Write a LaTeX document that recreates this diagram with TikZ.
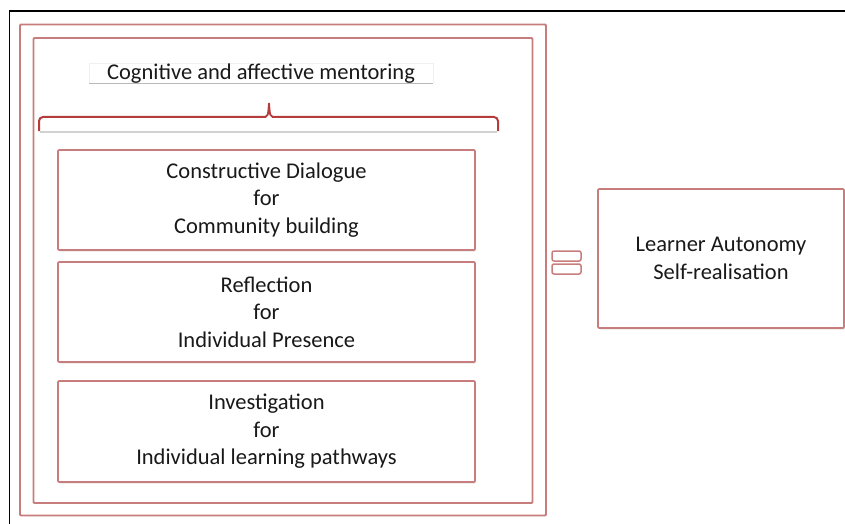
\documentclass[tikz,border=0pt]{standalone}
\usepackage{fontspec}
\setmainfont{Carlito}
\usetikzlibrary{shadows}
\definecolor{boxred}{RGB}{200,125,125}
\definecolor{bracered}{RGB}{180,60,60}
\definecolor{txt}{RGB}{25,25,25}
\tikzset{
  every node/.style={text=txt},
  bigfont/.style={font=\fontsize{22.5}{27.5}\selectfont},
  redframe/.style={draw=boxred, line width=1.8pt, rounded corners=1pt},
  mbox/.style={draw=boxred, line width=1.6pt, rounded corners=1pt, fill=white,
    align=center, bigfont, inner sep=0pt,
    drop shadow={opacity=0.2, shadow xshift=1.2pt, shadow yshift=-1.5pt}},
  eqbox/.style={draw=boxred, line width=1.5pt, rounded corners=2pt, inner sep=0pt,
    minimum width=29pt, minimum height=10pt},
}
\begin{document}
\begin{tikzpicture}[x=1pt,y=-1pt]
\useasboundingbox (0,0) rectangle (845,524);
% black frame
\draw[line width=1.6pt, black] (9.5,530) -- (9.5,11) -- (850,11);
% outer and inner red frames
\node[redframe, minimum width=526pt, minimum height=491pt, inner sep=0pt] (outer) at (283,270) {};
\node[redframe, minimum width=499pt, minimum height=465pt, inner sep=0pt] (inner) at (283,270.5) {};
% title box
\fill[white] (89,63) rectangle (433,83);
\draw[gray!12, line width=0.6pt] (89,83) -- (89,63) -- (433,63) -- (433,83);
\draw[gray!55, line width=1.3pt] (89,83.5) -- (433,83.5);
\node[bigfont, anchor=base] (title) at (261,80) {Cognitive and affective mentoring};
% brace
\draw[gray!35, line width=1.2pt] (40,132) -- (497,132);
\draw[bracered, line width=2pt, rounded corners=4pt]
  (39,131) -- (39,117) -- (266,117);
\draw[bracered, line width=2pt, rounded corners=4pt]
  (498,131) -- (498,117) -- (272,117);
\draw[bracered, line width=1.8pt] (265,117.5) .. controls (268,116) .. (269,103) .. controls (270,116) .. (273,117.5);
% three boxes
\node[mbox, minimum width=417pt, minimum height=100pt] (b1) at (266.5,200)
  {Constructive Dialogue\\for\\Community building};
\node[mbox, minimum width=417pt, minimum height=100pt] (b2) at (266.5,312)
  {Reflection\\for\\Individual Presence};
\node[mbox, minimum width=417pt, minimum height=101pt] (b3) at (266.5,431.5)
  {Investigation\\for\\Individual learning pathways};
% equals
\node[eqbox] (eq1) at (566.5,256) {};
\node[eqbox] (eq2) at (566.5,269) {};
% right box
\node[mbox, minimum width=246pt, minimum height=139pt] (la) at (721,258.5)
  {Learner Autonomy\\Self-realisation};
\end{tikzpicture}
\end{document}
